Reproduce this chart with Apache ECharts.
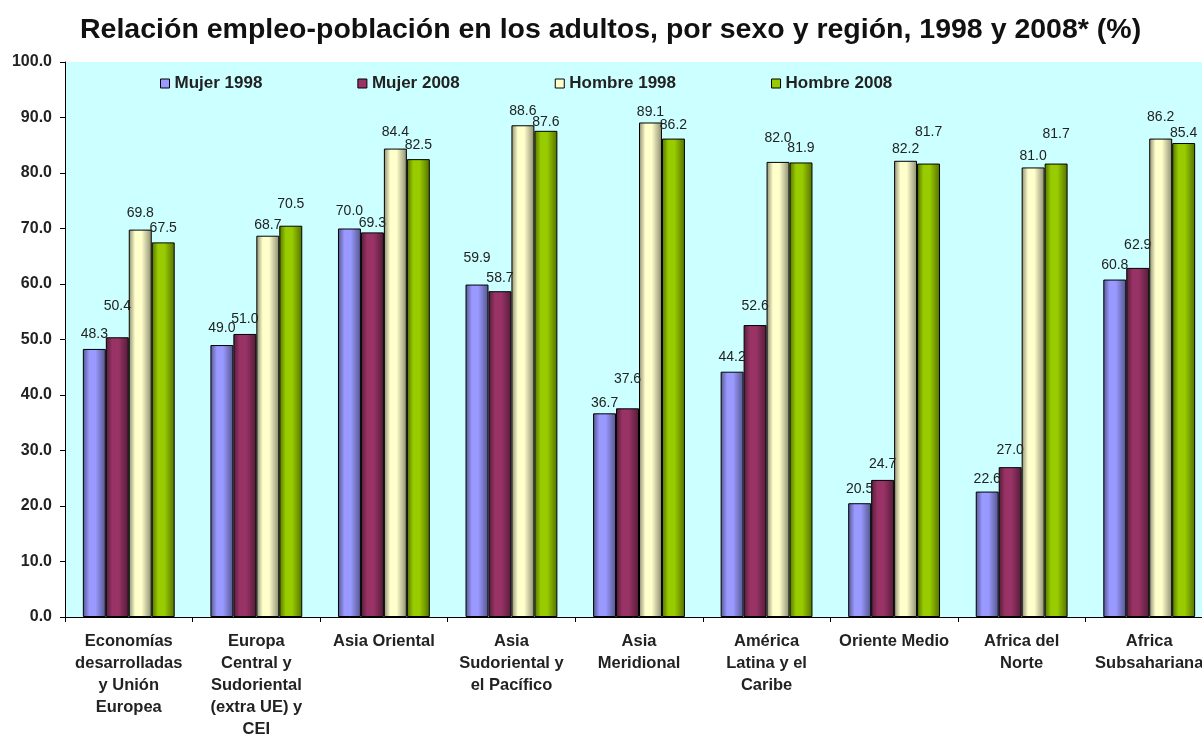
<!DOCTYPE html>
<html>
<head>
<meta charset="utf-8">
<script src="https://cdn.jsdelivr.net/npm/echarts@6/dist/echarts.min.js"></script>
<style>
html,body{margin:0;padding:0;background:#fff;}
#c{width:1202px;height:734px;}
</style>
</head>
<body>
<div id="c"></div>
<script>
// ---- data ----
const categories = [
  "Economías\ndesarrolladas\ny Unión\nEuropea",
  "Europa\nCentral y\nSudoriental\n(extra UE) y\nCEI",
  "Asia Oriental",
  "Asia\nSudoriental y\nel Pacífico",
  "Asia\nMeridional",
  "América\nLatina y el\nCaribe",
  "Oriente Medio",
  "Africa del\nNorte",
  "Africa\nSubsahariana"
];
const seriesNames = ["Mujer 1998", "Mujer 2008", "Hombre 1998", "Hombre 2008"];
const mujer1998  = [48.3, 49.0, 70.0, 59.9, 36.7, 44.2, 20.5, 22.6, 60.8];
const mujer2008  = [50.4, 51.0, 69.3, 58.7, 37.6, 52.6, 24.7, 27.0, 62.9];
const hombre1998 = [69.8, 68.7, 84.4, 88.6, 89.1, 82.0, 82.2, 81.0, 86.2];
const hombre2008 = [67.5, 70.5, 82.5, 87.6, 86.2, 81.9, 81.7, 81.7, 85.4];
const yTicks = [0, 10, 20, 30, 40, 50, 60, 70, 80, 90, 100];

// ---- style (label lift in px, colours) ----
const labelLift = [
  [2, 4, 4, 13, -3, 2, 1, -1, 1],
  [18, 2, -4, 0, 16, 6, 3, 4, 10],
  [3, -2, 3, 1, -3, 11, -1, -2, 8],
  [1, 9, 1, -4, 0, 1, 18, 16, -3]
];
const baseColors = ["#9999FF", "#993366", "#FFFFCC", "#99CC00"];

function shade(hex, f) {
  const n = parseInt(hex.slice(1), 16);
  const r = Math.round(((n >> 16) & 255) * f);
  const g = Math.round(((n >> 8) & 255) * f);
  const b = Math.round((n & 255) * f);
  return "rgb(" + r + "," + g + "," + b + ")";
}
function grad(hex) {
  return new echarts.graphic.LinearGradient(0, 0, 1, 0, [
    {offset: 0, color: shade(hex, 0.55)},
    {offset: 0.28, color: hex},
    {offset: 0.55, color: hex},
    {offset: 1, color: shade(hex, 0.55)}
  ]);
}

const allValues = [mujer1998, mujer2008, hombre1998, hombre2008];
const FONT = "'Liberation Sans', Arial, sans-serif";

const series = allValues.map((vals, si) => ({
  name: seriesNames[si],
  type: "bar",
  barGap: "0%",
  barCategoryGap: "28%",
  itemStyle: {color: grad(baseColors[si]), borderColor: "#000", borderWidth: 1},
  label: {
    show: true, position: "top", distance: 6,
    fontFamily: FONT, fontSize: 14, color: "#222",
    formatter: p => p.value.toFixed(1)
  },
  data: vals.map((v, i) => ({value: v, label: {offset: [0, -labelLift[si][i]]}}))
}));

const chart = echarts.init(document.getElementById("c"), null, {renderer: "canvas"});
chart.setOption({
  backgroundColor: "#fff",
  animation: false,
  title: {
    text: "Relación empleo-población en los adultos, por sexo y región, 1998 y 2008* (%)",
    left: 75, top: 11,
    textStyle: {fontFamily: FONT, fontSize: 28.5, fontWeight: "bold", color: "#111"}
  },
  legend: {
    left: 155, top: 70,
    itemWidth: 9, itemHeight: 9, itemGap: 95,
    icon: "rect",
    textStyle: {fontFamily: FONT, fontSize: 17, fontWeight: "bold", color: "#222"},
    data: seriesNames.map((n, i) => ({name: n, itemStyle: {color: baseColors[i], borderColor: "#000", borderWidth: 1}}))
  },
  grid: {
    left: 65, width: 1148, top: 62, bottom: 117,
    show: true, backgroundColor: "#CCFFFF", borderWidth: 0,
    containLabel: false,
    outerBoundsMode: "none"
  },
  xAxis: {
    type: "category",
    data: categories,
    axisLine: {lineStyle: {color: "#000", width: 1}},
    axisTick: {show: true, length: 5, lineStyle: {color: "#000"}},
    axisLabel: {
      interval: 0, margin: 13,
      fontFamily: FONT, fontSize: 16.5, fontWeight: "bold", color: "#222",
      lineHeight: 22, align: "center"
    }
  },
  yAxis: {
    type: "value",
    min: yTicks[0], max: yTicks[yTicks.length - 1], interval: 10,
    axisLine: {show: true, lineStyle: {color: "#000", width: 1}},
    axisTick: {show: true, length: 5, lineStyle: {color: "#000"}},
    splitLine: {show: false},
    axisLabel: {
      margin: 13,
      fontFamily: FONT, fontSize: 16, fontWeight: "bold", color: "#222",
      formatter: v => v.toFixed(1)
    }
  },
  series: series
});
</script>
</body>
</html>
